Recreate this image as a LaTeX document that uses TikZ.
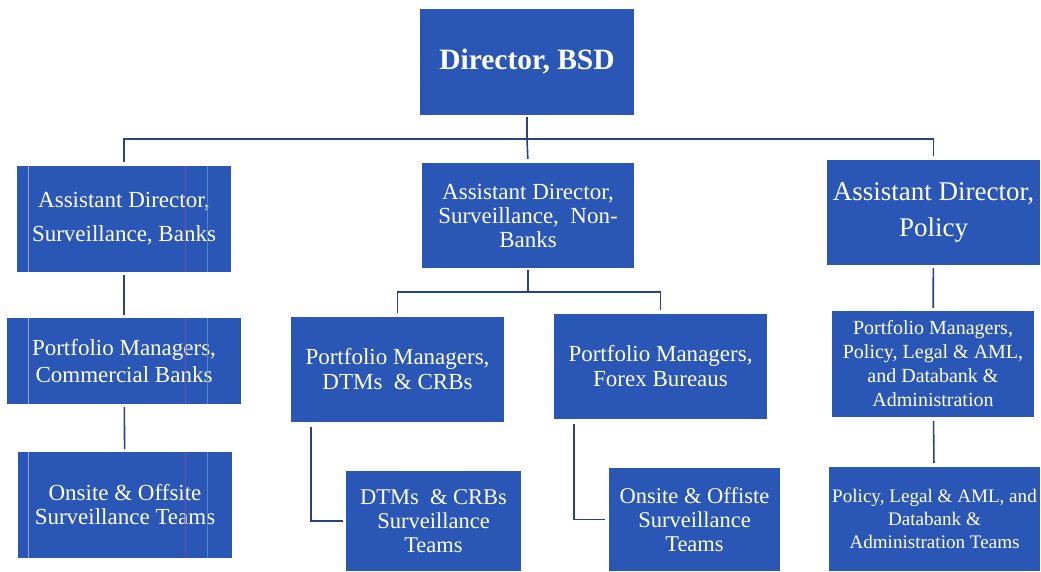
\documentclass[tikz,border=0pt]{standalone}
\usepackage{fontspec}
\setmainfont{Liberation Serif}
\definecolor{boxblue}{RGB}{42,86,182}
\definecolor{linecol}{RGB}{40,66,132}
\definecolor{streakA}{RGB}{190,180,190}
\definecolor{streakB}{RGB}{120,80,175}
\definecolor{streakC}{RGB}{80,150,220}
\newcommand{\fs}[2]{\fontsize{#1}{#2}\selectfont}
\begin{document}
\begin{tikzpicture}[x=1pt,y=-1pt,
  unit/.style={fill=boxblue, text=white, align=center, inner sep=0pt},
  conn/.style={draw=linecol, line width=1.6pt},
  gap/.style={shorten <=#1, shorten >=#1},
  streak/.style={draw=#1, line width=0.7pt, draw opacity=0.8}]
  \useasboundingbox[fill=white] (0,0) rectangle (1041,572);

  % top level
  \node[unit, minimum width=214, minimum height=106, font=\fs{29.5}{32}\bfseries] (dir) at (527,62)
    {Director, BSD};

  % assistant directors
  \node[unit, minimum width=214, minimum height=106, font=\fs{23}{34}] (adb) at (124,219)
    {Assistant Director,\\Surveillance, Banks};
  \node[unit, minimum width=212, minimum height=105, font=\fs{23}{24}] (adn) at (528,215.5)
    {Assistant Director,\\Surveillance,~ Non-\\Banks};
  \node[unit, minimum width=213, minimum height=105, font=\fs{27}{36}] (adp) at (933.5,212.5)
    {Assistant Director,\\Policy};

  % portfolio managers
  \node[unit, minimum width=234, minimum height=86, font=\fs{23}{27}] (pmc) at (124,361)
    {Portfolio Managers,\\Commercial Banks};
  \node[unit, minimum width=213, minimum height=105, font=\fs{23}{25}] (pmd) at (397.5,369.5)
    {Portfolio Managers,\\DTMs~~\& CRBs};
  \node[unit, minimum width=213, minimum height=105, font=\fs{23}{25}] (pmf) at (660.5,366.5)
    {Portfolio Managers,\\Forex Bureaus};
  \node[unit, minimum width=202, minimum height=106, font=\fs{20}{24}] (pmp) at (933,364)
    {Portfolio Managers,\\Policy, Legal \& AML,\\and Databank \&\\Administration};

  % teams
  \node[unit, minimum width=214, minimum height=106, font=\fs{23}{24}] (tl) at (125,505)
    {Onsite \& Offsite\\Surveillance Teams};
  \node[unit, minimum width=175, minimum height=100, font=\fs{22.5}{24}] (td) at (433.5,521)
    {DTMs~~\& CRBs\\Surveillance\\Teams};
  \node[unit, minimum width=171, minimum height=103, font=\fs{22.5}{24}] (tf) at (694.5,519.5)
    {Onsite \& Offiste\\Surveillance\\Teams};
  \node[unit, minimum width=211, minimum height=104, font=\fs{19.1}{23}] (tp) at (934.5,519)
    {Policy, Legal \& AML, and\\Databank \&\\Administration Teams};

  % faint vertical streaks across the left column
  \foreach \yt/\yb in {166/272, 318/404, 452/558} {
    \draw[streak=streakA] (28,\yt) -- (28,\yb);
    \draw[streak=streakB] (185,\yt) -- (185,\yb);
    \draw[streak=streakC] (207,\yt) -- (207,\yb);
  }

  % director to assistant directors
  \draw[conn, shorten <=2pt] (dir.south) -- ++(0,24) coordinate (hub);
  \draw[conn, gap=4pt] (adb.north) |- (hub) -| (adp.north);
  \draw[conn, shorten >=4pt] (hub) -- (adn.north);

  % banks column
  \draw[conn, gap=3pt] (adb) -- (pmc);
  \draw[conn, gap=3pt] (pmc) -- (tl);

  % non-banks branch
  \draw[conn, shorten <=2pt] (adn.south) -- ++(0,24) coordinate (mhub);
  \draw[conn, gap=4pt] (pmd.north) |- (mhub) -| (pmf.north);
  \draw[conn, shorten <=5pt, shorten >=3pt] ([xshift=20pt]pmd.south west) |- (td.west);
  \draw[conn, shorten <=5pt, shorten >=4pt] ([xshift=20pt]pmf.south west) |- (tf.west);

  % policy column
  \draw[conn, gap=3pt] (adp) -- (pmp);
  \draw[conn, gap=4pt] (pmp) -- (tp);
\end{tikzpicture}
\end{document}
